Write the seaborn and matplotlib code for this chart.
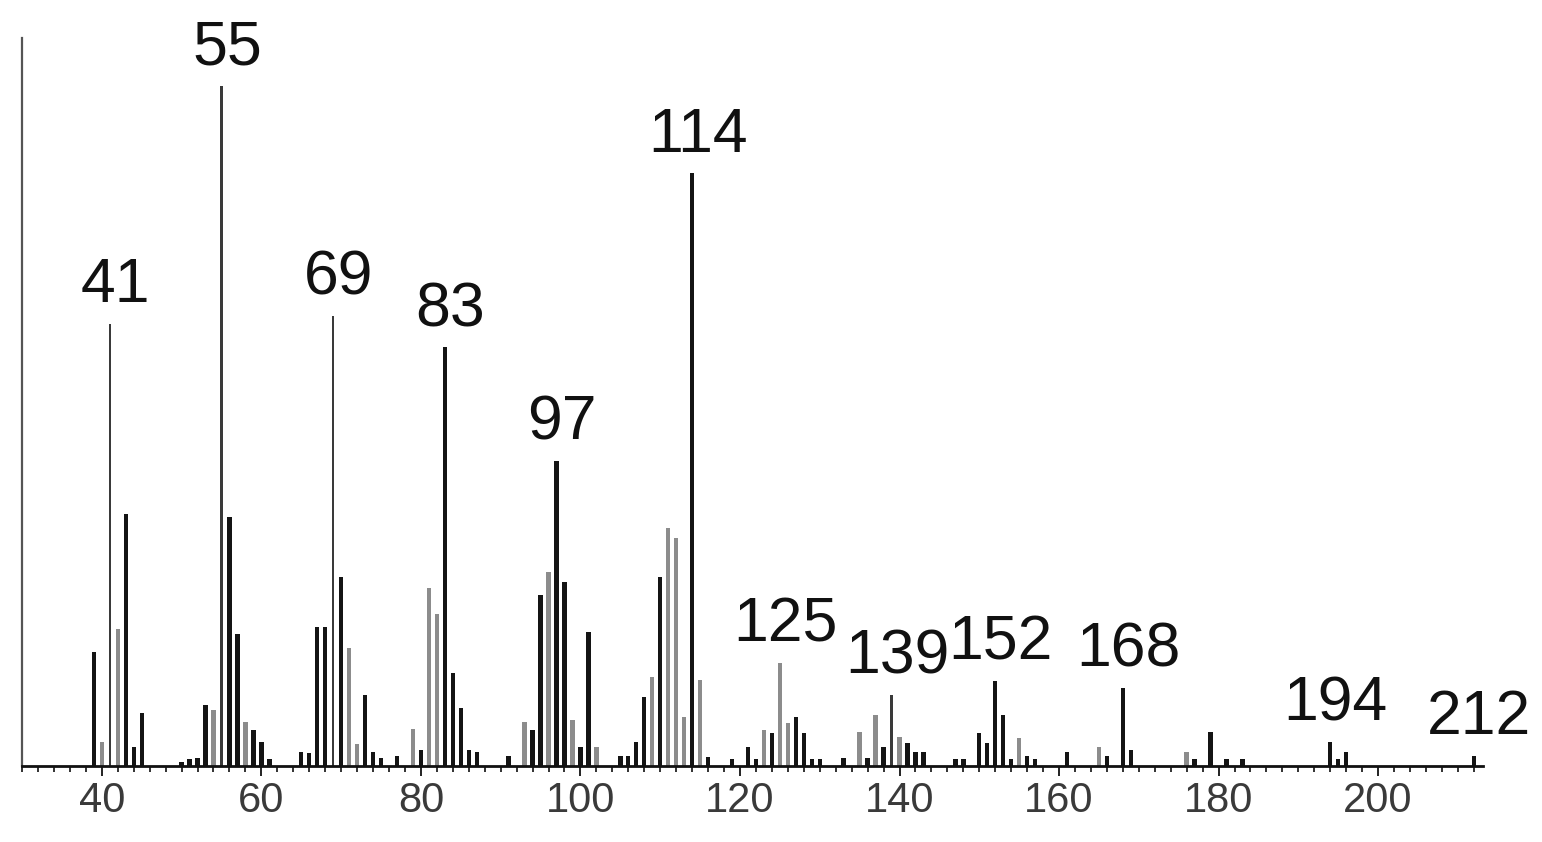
import matplotlib
matplotlib.use("Agg")
import matplotlib.pyplot as plt
from matplotlib import font_manager
import numpy as np
import pandas as pd
import seaborn as sns

# m/z values and relative intensities (%)
mz = [39, 40, 41, 42, 43, 44, 45,
      50, 51, 52, 53, 54, 55, 56, 57, 58, 59, 60, 61,
      65, 66, 67, 68, 69, 70, 71, 72, 73, 74, 75,
      77, 79, 80, 81, 82, 83, 84, 85, 86, 87,
      91, 93, 94, 95, 96, 97, 98, 99, 100, 101, 102,
      105, 106, 107, 108, 109, 110, 111, 112, 113, 114, 115, 116,
      119, 121, 122, 123, 124, 125, 126, 127, 128, 129, 130,
      133, 135, 136, 137, 138, 139, 140, 141, 142, 143,
      147, 148, 150, 151, 152, 153, 154, 155, 156, 157,
      161, 165, 166, 168, 169,
      176, 177, 179, 181, 183,
      194, 195, 196, 212]
intensity = [16.8, 3.5, 65.0, 20.2, 37.1, 2.8, 7.8,
             0.6, 1.0, 1.2, 8.9, 8.2, 100.0, 36.6, 19.4, 6.5, 5.3, 3.5, 1.0,
             2.0, 1.9, 20.4, 20.4, 66.2, 27.8, 17.3, 3.3, 10.4, 2.0, 1.2,
             1.5, 5.5, 2.3, 26.1, 22.4, 61.5, 13.6, 8.5, 2.3, 2.0,
             1.5, 6.5, 5.3, 25.1, 28.5, 44.8, 27.1, 6.8, 2.8, 19.7, 2.8,
             1.5, 1.5, 3.5, 10.2, 13.1, 27.8, 34.9, 33.5, 7.2, 87.1, 12.6, 1.3,
             1.0, 2.8, 1.0, 5.3, 4.8, 15.1, 6.3, 7.2, 4.8, 1.0, 1.0,
             1.2, 5.0, 1.2, 7.5, 2.8, 10.4, 4.3, 3.4, 2.0, 2.0,
             1.0, 1.0, 4.8, 3.4, 12.5, 7.5, 1.0, 4.1, 1.5, 1.0,
             2.0, 2.8, 1.5, 11.5, 2.3,
             2.0, 1.0, 5.0, 1.0, 1.0,
             3.5, 1.0, 2.0, 1.5]

labelled = [41, 55, 69, 83, 97, 114, 125, 139, 152, 168, 194, 212]

# drawing style: which bars print lighter / thinner
gray_peaks = {40, 42, 54, 58, 71, 72, 79, 81, 82, 93, 96, 99, 102, 109, 111,
              112, 113, 115, 123, 125, 126, 135, 137, 140, 155, 165, 176}
thin_peaks = {41, 55, 69, 139}

df = pd.DataFrame({"mz": mz, "intensity": intensity})
df["shade"] = np.where(df["mz"].isin(gray_peaks), "gray", "dark")
df["thin"] = df["mz"].isin(thin_peaks)

sns.set_style("white")
installed = {f.name for f in font_manager.fontManager.ttflist}
narrow = "Liberation Sans Narrow" in installed
plt.rcParams["font.family"] = ["Liberation Sans Narrow", "Liberation Sans", "DejaVu Sans"]
peak_fs = 54 if narrow else 45
tick_fs = 37 if narrow else 30

fig = plt.figure(figsize=(15.42, 8.42), dpi=100)
ax = fig.add_axes([0.0143, 0.0903, 0.9477, 0.8647])

wide = df[~df["thin"]]
sns.barplot(data=wide, x="mz", y="intensity", hue="shade",
            palette={"dark": "#141414", "gray": "#8c8c8c"},
            native_scale=True, dodge=False, width=0.55, linewidth=0,
            errorbar=None, legend=False, ax=ax)
# seaborn scales width by the smallest gap between x values
thin = df[df["thin"]]
gap = np.diff(np.sort(thin["mz"].values)).min()
sns.barplot(data=thin, x="mz", y="intensity", color="#3a3a3a",
            native_scale=True, width=0.3 / gap, linewidth=0, saturation=1,
            errorbar=None, ax=ax)

for m in labelled:
    h = df.loc[df["mz"] == m, "intensity"].iloc[0]
    ax.annotate(str(m), xy=(m, h), xytext=(4, 6), textcoords="offset points",
                ha="center", va="bottom", fontsize=peak_fs, color="#111111")

ax.set_xlim(30, 213.2)
ax.set_ylim(0, 107)
ax.set_xticks(np.arange(40, 201, 20))
ax.set_xticks(np.arange(30, 213, 2), minor=True)
ax.tick_params(axis="x", which="major", direction="out", length=7.5, width=1.4,
               color="#222222", labelsize=tick_fs, labelcolor="#3a3a3a", pad=3,
               bottom=True)
ax.tick_params(axis="x", which="minor", direction="out", length=4, width=1.3,
               color="#222222", bottom=True)
ax.set_yticks([])
ax.set_xlabel("")
ax.set_ylabel("")
sns.despine(ax=ax, top=True, right=True)
ax.spines["left"].set_color("#555555")
ax.spines["left"].set_linewidth(1.6)
ax.spines["bottom"].set_color("#111111")
ax.spines["bottom"].set_linewidth(2.0)

fig.savefig("out.png", dpi=100)
